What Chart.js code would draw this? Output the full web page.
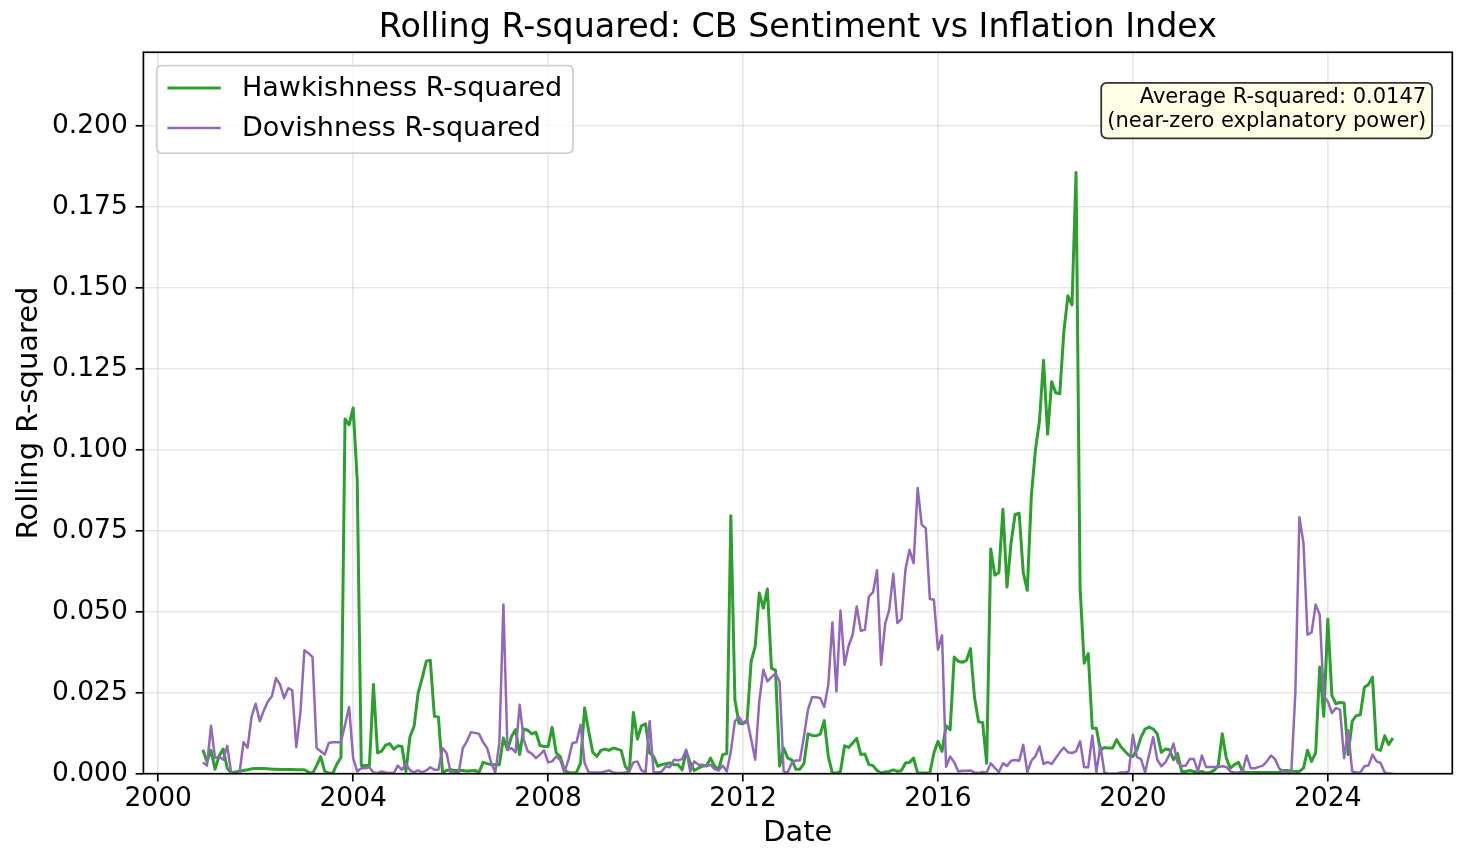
<!DOCTYPE html>
<html>
<head>
<meta charset="utf-8">
<title>Rolling R-squared: CB Sentiment vs Inflation Index</title>
<script src="https://cdn.jsdelivr.net/npm/chart.js@4.4.1/dist/chart.umd.min.js"></script>
<style>
  html, body { margin: 0; padding: 0; background: #fff; }
</style>
</head>
<body>
<canvas id="rolling" width="1468" height="867"></canvas>
<script>
// monthly rolling R-squared, first point is 2000-12
const firstYear = 2000
const firstMonth = 12

const hawkish = [
  0.0074, 0.0038, 0.0072, 0.0014, 0.0055, 0.0076, 0.0017, 0.0002, 0.0005, 0.0008, 0.0010, 0.0012,
  0.0015, 0.0016, 0.0016, 0.0016, 0.0015, 0.0014, 0.0014, 0.0013, 0.0013, 0.0013, 0.0013, 0.0012,
  0.0012, 0.0012, 0.0005, 0.0001, 0.0025, 0.0053, 0.0007, 0.0002, 0.0001, 0.0030, 0.0050, 0.1095,
  0.1077, 0.1129, 0.0907, 0.0025, 0.0025, 0.0025, 0.0275, 0.0064, 0.0070, 0.0088, 0.0093, 0.0076,
  0.0086, 0.0084, 0.0007, 0.0115, 0.0146, 0.0249, 0.0295, 0.0347, 0.0350, 0.0177, 0.0175, 0.0004,
  0.0010, 0.0012, 0.0010, 0.0010, 0.0010, 0.0008, 0.0009, 0.0010, 0.0004, 0.0035, 0.0031, 0.0028,
  0.0028, 0.0028, 0.0110, 0.0074, 0.0115, 0.0136, 0.0059, 0.0138, 0.0134, 0.0123, 0.0128, 0.0087,
  0.0084, 0.0084, 0.0143, 0.0064, 0.0053, 0.0010, 0.0004, 0.0002, 0.0004, 0.0033, 0.0203, 0.0131,
  0.0066, 0.0053, 0.0072, 0.0076, 0.0072, 0.0079, 0.0076, 0.0072, 0.0023, 0.0007, 0.0189, 0.0107,
  0.0148, 0.0154, 0.0064, 0.0053, 0.0023, 0.0028, 0.0031, 0.0033, 0.0028, 0.0028, 0.0012, 0.0069,
  0.0033, 0.0010, 0.0017, 0.0023, 0.0025, 0.0048, 0.0023, 0.0014, 0.0059, 0.0062, 0.0796, 0.0228,
  0.0156, 0.0154, 0.0162, 0.0347, 0.0393, 0.0558, 0.0511, 0.0570, 0.0326, 0.0319, 0.0023, 0.0079,
  0.0048, 0.0043, 0.0014, 0.0014, 0.0031, 0.0123, 0.0118, 0.0117, 0.0122, 0.0164, 0.0053, 0.0002,
  0.0002, 0.0007, 0.0086, 0.0081, 0.0095, 0.0109, 0.0059, 0.0061, 0.0028, 0.0025, 0.0010, 0.0002,
  0.0005, 0.0007, 0.0012, 0.0007, 0.0010, 0.0033, 0.0035, 0.0048, 0.0002, 0.0002, 0.0002, 0.0002,
  0.0064, 0.0100, 0.0069, 0.0148, 0.0136, 0.0360, 0.0347, 0.0344, 0.0349, 0.0386, 0.0235, 0.0160,
  0.0158, 0.0032, 0.0694, 0.0613, 0.0621, 0.0816, 0.0576, 0.0713, 0.0800, 0.0804, 0.0621, 0.0566,
  0.0859, 0.0999, 0.1090, 0.1276, 0.1048, 0.1210, 0.1176, 0.1173, 0.1365, 0.1475, 0.1447, 0.1856,
  0.0573, 0.0341, 0.0371, 0.0140, 0.0140, 0.0073, 0.0081, 0.0079, 0.0079, 0.0105, 0.0084, 0.0070,
  0.0057, 0.0053, 0.0074, 0.0113, 0.0138, 0.0144, 0.0138, 0.0123, 0.0066, 0.0076, 0.0074, 0.0043,
  0.0062, 0.0007, 0.0007, 0.0010, 0.0007, 0.0004, 0.0007, 0.0002, 0.0004, 0.0010, 0.0025, 0.0123,
  0.0048, 0.0017, 0.0028, 0.0035, 0.0007, 0.0004, 0.0004, 0.0004, 0.0004, 0.0004, 0.0004, 0.0004,
  0.0004, 0.0004, 0.0010, 0.0010, 0.0008, 0.0007, 0.0007, 0.0017, 0.0072, 0.0038, 0.0064, 0.0329,
  0.0177, 0.0477, 0.0241, 0.0216, 0.0220, 0.0218, 0.0059, 0.0162, 0.0179, 0.0182, 0.0267, 0.0275,
  0.0298, 0.0076, 0.0072, 0.0117, 0.0090, 0.0110
]

const dovish = [
  0.0035, 0.0025, 0.0148, 0.0048, 0.0053, 0.0043, 0.0086, 0.0000, 0.0000, 0.0000, 0.0097, 0.0080,
  0.0177, 0.0216, 0.0162, 0.0195, 0.0223, 0.0239, 0.0295, 0.0275, 0.0233, 0.0264, 0.0257, 0.0082,
  0.0187, 0.0381, 0.0372, 0.0360, 0.0079, 0.0069, 0.0059, 0.0095, 0.0097, 0.0097, 0.0097, 0.0151,
  0.0206, 0.0048, 0.0007, 0.0017, 0.0017, 0.0020, 0.0004, 0.0002, 0.0007, 0.0004, 0.0002, 0.0002,
  0.0025, 0.0012, 0.0031, 0.0010, 0.0004, 0.0010, 0.0004, 0.0010, 0.0020, 0.0012, 0.0012, 0.0079,
  0.0064, 0.0004, 0.0002, 0.0004, 0.0079, 0.0100, 0.0128, 0.0126, 0.0123, 0.0097, 0.0079, 0.0033,
  0.0004, 0.0095, 0.0522, 0.0074, 0.0079, 0.0066, 0.0213, 0.0105, 0.0069, 0.0062, 0.0048, 0.0059,
  0.0072, 0.0035, 0.0038, 0.0053, 0.0043, 0.0004, 0.0043, 0.0095, 0.0097, 0.0151, 0.0033, 0.0004,
  0.0004, 0.0004, 0.0004, 0.0007, 0.0010, 0.0004, 0.0002, 0.0002, 0.0004, 0.0007, 0.0035, 0.0038,
  0.0010, 0.0004, 0.0162, 0.0004, 0.0004, 0.0007, 0.0023, 0.0020, 0.0043, 0.0041, 0.0045, 0.0074,
  0.0007, 0.0038, 0.0028, 0.0028, 0.0023, 0.0028, 0.0014, 0.0010, 0.0025, 0.0007, 0.0069, 0.0162,
  0.0175, 0.0156, 0.0167, 0.0107, 0.0043, 0.0223, 0.0321, 0.0285, 0.0298, 0.0309, 0.0285, 0.0007,
  0.0004, 0.0033, 0.0041, 0.0041, 0.0115, 0.0198, 0.0236, 0.0236, 0.0234, 0.0206, 0.0275, 0.0467,
  0.0254, 0.0504, 0.0336, 0.0395, 0.0429, 0.0516, 0.0441, 0.0444, 0.0547, 0.0560, 0.0628, 0.0336,
  0.0463, 0.0506, 0.0617, 0.0465, 0.0477, 0.0630, 0.0691, 0.0650, 0.0882, 0.0769, 0.0758, 0.0539,
  0.0537, 0.0383, 0.0427, 0.0021, 0.0053, 0.0035, 0.0007, 0.0009, 0.0009, 0.0010, 0.0004, 0.0002,
  0.0005, 0.0003, 0.0032, 0.0018, 0.0005, 0.0032, 0.0024, 0.0040, 0.0042, 0.0040, 0.0089, 0.0005,
  0.0040, 0.0054, 0.0084, 0.0030, 0.0036, 0.0030, 0.0048, 0.0066, 0.0081, 0.0066, 0.0064, 0.0069,
  0.0100, 0.0020, 0.0020, 0.0118, 0.0005, 0.0085, 0.0003, 0.0000, 0.0000, 0.0000, 0.0004, 0.0004,
  0.0007, 0.0120, 0.0051, 0.0045, 0.0004, 0.0059, 0.0113, 0.0043, 0.0023, 0.0035, 0.0059, 0.0093,
  0.0035, 0.0023, 0.0025, 0.0045, 0.0045, 0.0007, 0.0056, 0.0021, 0.0021, 0.0021, 0.0021, 0.0023,
  0.0021, 0.0007, 0.0004, 0.0004, 0.0007, 0.0056, 0.0017, 0.0017, 0.0021, 0.0025, 0.0038, 0.0056,
  0.0045, 0.0017, 0.0007, 0.0004, 0.0004, 0.0249, 0.0792, 0.0712, 0.0429, 0.0436, 0.0522, 0.0491,
  0.0239, 0.0223, 0.0187, 0.0203, 0.0198, 0.0048, 0.0134, 0.0007, 0.0004, 0.0004, 0.0023, 0.0025,
  0.0059, 0.0038, 0.0033, 0.0004, 0.0000, 0.0000
]

const xTicks = [2000, 2004, 2008, 2012, 2016, 2020, 2024]
const yTicks = [0, 0.025, 0.05, 0.075, 0.1, 0.125, 0.15, 0.175, 0.2]

const statText = 'Average R-squared: 0.0147'
const noteText = '(near-zero explanatory power)'

// month -> decimal year for the x axis
const months = []
for (let i = 0; i < hawkish.length; i++) {
  const m = firstMonth - 1 + i
  months.push(firstYear + Math.floor(m / 12) + (m % 12) / 12)
}

const FONT = '"DejaVu Sans", "Liberation Sans", sans-serif'
Chart.defaults.font.family = FONT
Chart.defaults.color = '#000'

const roundBox = (ctx, x, y, w, h, r) => {
  ctx.beginPath()
  ctx.moveTo(x + r, y)
  ctx.lineTo(x + w - r, y)
  ctx.quadraticCurveTo(x + w, y, x + w, y + r)
  ctx.lineTo(x + w, y + h - r)
  ctx.quadraticCurveTo(x + w, y + h, x + w - r, y + h)
  ctx.lineTo(x + r, y + h)
  ctx.quadraticCurveTo(x, y + h, x, y + h - r)
  ctx.lineTo(x, y + r)
  ctx.quadraticCurveTo(x, y, x + r, y)
  ctx.closePath()
}

// axes frame on top of the lines, like matplotlib spines
const frame = {
  id: 'frame',
  afterDatasetsDraw(chart) {
    const { ctx, chartArea: a } = chart
    ctx.save()
    ctx.strokeStyle = '#000'
    ctx.lineWidth = 1.7
    ctx.strokeRect(a.left, a.top, a.right - a.left, a.bottom - a.top)
    ctx.restore()
  }
}

// legend box in the upper left corner of the plot
const insideLegend = {
  id: 'insideLegend',
  afterDraw(chart) {
    const { ctx, chartArea: a } = chart
    const sets = chart.data.datasets
    ctx.save()
    ctx.font = '27px ' + FONT
    const textW = Math.max(...sets.map(d => ctx.measureText(d.label).width))
    const x0 = a.left + 13.3
    const y0 = a.top + 13.3
    const w = 10.7 + 53.3 + 21.3 + textW + 10.7
    const h = 87.5
    roundBox(ctx, x0, y0, w, h, 5)
    ctx.fillStyle = 'rgba(255,255,255,0.8)'
    ctx.fill()
    ctx.strokeStyle = '#d0d0d0'
    ctx.lineWidth = 1.8
    ctx.stroke()
    sets.forEach((d, i) => {
      const y = y0 + 22.5 + i * 40
      ctx.strokeStyle = d.borderColor
      ctx.lineWidth = d.borderWidth
      ctx.beginPath()
      ctx.moveTo(x0 + 10.7, y)
      ctx.lineTo(x0 + 10.7 + 53.3, y)
      ctx.stroke()
      ctx.fillStyle = '#000'
      ctx.textAlign = 'left'
      ctx.textBaseline = 'middle'
      ctx.fillText(d.label, x0 + 10.7 + 53.3 + 21.3, y + 1)
    })
    ctx.restore()
  }
}

// note box in the upper right corner
const noteBox = {
  id: 'noteBox',
  afterDraw(chart) {
    const { ctx, chartArea: a } = chart
    const lines = [statText, noteText]
    ctx.save()
    ctx.font = '21px ' + FONT
    const right = a.left + 0.98 * (a.right - a.left)
    const top = a.top + 0.05 * (a.bottom - a.top)
    const textW = Math.max(...lines.map(t => ctx.measureText(t).width))
    roundBox(ctx, right - textW - 6, top - 5.5, textW + 12, 55.5, 6)
    ctx.fillStyle = 'rgba(255,255,224,0.85)'
    ctx.fill()
    ctx.strokeStyle = 'rgba(0,0,0,0.8)'
    ctx.lineWidth = 1.8
    ctx.stroke()
    ctx.fillStyle = '#000'
    ctx.textAlign = 'right'
    ctx.textBaseline = 'middle'
    lines.forEach((t, i) => ctx.fillText(t, right, top + 9 + i * 24.5))
    ctx.restore()
  }
}

const gridColor = 'rgba(176,176,176,0.3)'

new Chart(document.getElementById('rolling'), {
  type: 'line',
  data: {
    datasets: [
      {
        label: 'Hawkishness R-squared',
        data: hawkish.map((v, i) => ({ x: months[i], y: v })),
        borderColor: '#2ca02c',
        borderWidth: 3,
        pointRadius: 0,
        tension: 0,
        borderJoinStyle: 'round',
        clip: 0,
        order: 1
      },
      {
        label: 'Dovishness R-squared',
        data: dovish.map((v, i) => ({ x: months[i], y: v })),
        borderColor: '#9467bd',
        borderWidth: 2.5,
        pointRadius: 0,
        tension: 0,
        borderJoinStyle: 'round',
        clip: 0,
        order: 0
      }
    ]
  },
  options: {
    responsive: false,
    animation: false,
    devicePixelRatio: 1,
    layout: { padding: { left: 0, top: 0, right: 15.7, bottom: 0 } },
    plugins: {
      legend: { display: false },
      tooltip: { enabled: false },
      title: {
        display: true,
        text: 'Rolling R-squared: CB Sentiment vs Inflation Index',
        fullSize: false,
        color: '#000',
        font: { size: 33.3, weight: 'normal', lineHeight: 1.2 },
        padding: { top: 8, bottom: 4.3 }
      }
    },
    scales: {
      x: {
        type: 'linear',
        min: 1999.696,
        max: 2026.554,
        afterBuildTicks: (s) => { s.ticks = xTicks.map(v => ({ value: v })) },
        afterFit: (s) => { s.height = 93.3 },
        ticks: {
          callback: (v) => String(v),
          font: { size: 26.5 },
          padding: 2,
          maxRotation: 0,
          autoSkip: false
        },
        grid: {
          color: gridColor,
          lineWidth: 1.6,
          tickColor: '#000',
          tickWidth: 1.7,
          tickLength: 7.8
        },
        border: { display: false },
        title: {
          display: true,
          text: 'Date',
          font: { size: 28.9, lineHeight: 1.2 },
          padding: { top: 0, bottom: 15.7 }
        }
      },
      y: {
        type: 'linear',
        min: 0,
        max: 0.2227,
        afterBuildTicks: (s) => { s.ticks = yTicks.map(v => ({ value: v })) },
        afterFit: (s) => { s.width = 143.4 },
        ticks: {
          callback: (v) => v.toFixed(3),
          font: { size: 26.5 },
          padding: 7.8,
          autoSkip: false
        },
        grid: {
          color: gridColor,
          lineWidth: 1.6,
          tickColor: '#000',
          tickWidth: 1.7,
          tickLength: 7.8
        },
        border: { display: false },
        title: {
          display: true,
          text: 'Rolling R-squared',
          font: { size: 28.9, lineHeight: 1.2 },
          padding: { top: 12, bottom: 0 }
        }
      }
    }
  },
  plugins: [frame, insideLegend, noteBox]
})
</script>
</body>
</html>
